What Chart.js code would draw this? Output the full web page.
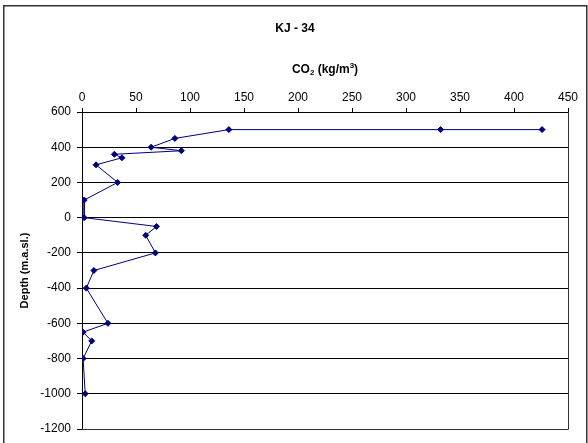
<!DOCTYPE html>
<html>
<head>
<meta charset="utf-8">
<script src="https://cdn.jsdelivr.net/npm/chart.js@4/dist/chart.umd.min.js"></script>
<style>
  html, body { margin: 0; padding: 0; background: #fff; }
  #wrap { width: 588px; height: 443px; }
</style>
</head>
<body>
<div id="wrap"><canvas id="c" width="588" height="443"></canvas></div>
<script>
// CO2 concentration profile with depth, well KJ-34
const co2 = [426, 332, 136, 86, 64, 92, 30, 37, 13, 33, 2, 2, 69, 59, 68, 11, 4, 24, 1, 9, 1, 3];
const depth = [500, 500, 500, 450, 400, 380, 360, 340, 300, 200, 100, 0, -50, -100, -200, -300, -400, -600, -650, -700, -800, -1000];

const chartTitle = 'KJ - 34';
const yTitle = 'Depth (m.a.sl.)';

const FONT = "'Liberation Sans', Arial, sans-serif";

const points = co2.map((v, i) => ({ x: v, y: depth[i] }));

// white page, outer frame, plot border, title and the CO2 axis caption
const decor = {
  id: 'decor',
  beforeDraw(chart) {
    const ctx = chart.ctx;
    ctx.save();
    ctx.fillStyle = '#fff';
    ctx.fillRect(0, 0, chart.width, chart.height);
    ctx.strokeStyle = '#333';
    ctx.lineWidth = 1.5;
    ctx.strokeRect(3.75, 5.75, 583, 460);
    ctx.restore();
  },
  afterDraw(chart) {
    const ctx = chart.ctx;
    const a = chart.chartArea;
    ctx.save();
    ctx.strokeStyle = '#333';
    ctx.lineWidth = 1;
    ctx.beginPath();
    ctx.moveTo(Math.round(a.right) + 0.5, Math.round(a.top));
    ctx.lineTo(Math.round(a.right) + 0.5, Math.round(a.bottom) + 0.5);
    ctx.lineTo(Math.round(a.left), Math.round(a.bottom) + 0.5);
    ctx.stroke();

    // chart title
    ctx.fillStyle = '#000';
    ctx.textBaseline = 'middle';
    ctx.textAlign = 'center';
    ctx.font = 'bold 12px ' + FONT;
    ctx.fillText(chartTitle, 295, 29);

    // x axis caption with subscript / superscript
    const parts = [
      { t: 'CO', size: 12, dy: 0 },
      { t: '2', size: 8, dy: 3 },
      { t: ' (kg/m', size: 12, dy: 0 },
      { t: '3', size: 8, dy: -4 },
      { t: ')', size: 12, dy: 0 }
    ];
    let total = 0;
    parts.forEach(p => { ctx.font = 'bold ' + p.size + 'px ' + FONT; p.w = ctx.measureText(p.t).width; total += p.w; });
    let x = (a.left + a.right) / 2 - total / 2;
    const y = 70;
    ctx.textAlign = 'left';
    parts.forEach(p => {
      ctx.font = 'bold ' + p.size + 'px ' + FONT;
      ctx.fillText(p.t, x, y + p.dy);
      x += p.w;
    });
    ctx.restore();
  }
};

const plainLabel = v => String(v);

new Chart(document.getElementById('c'), {
  type: 'scatter',
  data: {
    datasets: [{
      data: points,
      showLine: true,
      borderColor: '#000080',
      backgroundColor: '#000080',
      borderWidth: 1,
      pointStyle: 'rectRot',
      pointRadius: 3,
      pointBorderWidth: 1,
      tension: 0
    }]
  },
  options: {
    responsive: false,
    animation: false,
    devicePixelRatio: 1,
    layout: { padding: { left: 0, right: 20, top: 0, bottom: 14 } },
    plugins: {
      legend: { display: false },
      tooltip: { enabled: false },
      title: { display: false }
    },
    scales: {
      x: {
        type: 'linear',
        position: 'top',
        min: 0,
        max: 450,
        ticks: {
          stepSize: 50,
          color: '#000',
          padding: 3,
          maxRotation: 0,
          callback: plainLabel,
          font: { family: FONT, size: 12 }
        },
        grid: { drawOnChartArea: false, tickLength: 4, color: '#000' },
        border: { color: '#000', width: 1 },
        afterFit(s) { s.height = 112; }
      },
      y: {
        type: 'linear',
        min: -1200,
        max: 600,
        ticks: {
          stepSize: 200,
          color: '#000',
          padding: 6,
          callback: plainLabel,
          font: { family: FONT, size: 12 }
        },
        grid: { color: '#000', tickLength: 5, lineWidth: 1 },
        border: { color: '#000', width: 1 },
        title: {
          display: true,
          text: yTitle,
          color: '#000',
          font: { family: FONT, size: 11, weight: 'bold' },
          padding: { top: 18, bottom: 0 }
        },
        afterFit(s) { s.width = 82; }
      }
    }
  },
  plugins: [decor]
});
</script>
</body>
</html>
